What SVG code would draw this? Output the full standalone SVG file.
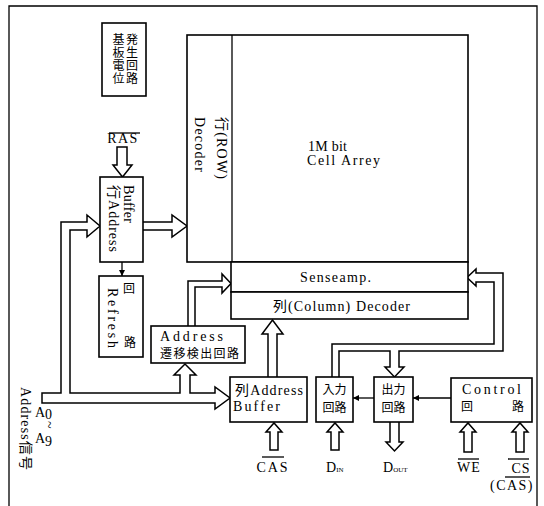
<svg xmlns="http://www.w3.org/2000/svg" width="544" height="506" viewBox="0 0 544 506">
<style>
.b{fill:#fff;stroke:#000;stroke-width:1.6}
.p{fill:#fff;stroke:#000;stroke-width:1.5;stroke-linejoin:miter}
.l{fill:none;stroke:#000;stroke-width:1.3}
.t{font-family:"Liberation Serif","Noto Sans CJK JP",serif;font-size:14px;fill:#000}
.j{font-family:"Noto Sans CJK JP","Liberation Serif",sans-serif;font-size:12px;fill:#000}
.m{text-anchor:middle}
</style>
<defs>
<marker id="ah" viewBox="0 0 6 6" refX="6" refY="3" markerWidth="6" markerHeight="6" markerUnits="userSpaceOnUse" orient="auto">
<path d="M0,0 L6,3 L0,6 Z" fill="#000"/>
</marker>
</defs>
<rect width="544" height="506" fill="#fff"/>
<path class="l" d="M9,506 V6 H537 V506"/>

<g id="connectors">
<path class="p" d="M117,147 H127 V165 H132 L122.5,177 L113,165 H117 Z"/>
<path class="p" d="M143,222 H172 V215 L187,226 L172,237 V230 H143"/>
<path class="p" d="M42,393 H61 V222 H87 V215 L100,226 L87,237 V230 H70 V393 H180 V375 H174 L185,364 L196,375 H190 V393 H215 V387 L230,398 L215,409 V403 H42 Z"/>
<path class="p" d="M188,326 V281 H222 V274 L231,283.5 L222,293 V287 H195 V326"/>
<path class="p" d="M268,377 V334 H262 L272.5,320 L283,334 H277 V377"/>
<path class="p" d="M332,377 V344 H494 V282 H476 V286 L467,277.5 L476,269 V273 H503 V351 H399 V367 H404 L394.5,377 L385,367 H390 V351 H339 V377"/>
<path class="p" d="M390,422 V442 H386 L394.5,451 L403,442 H399 V422"/>
<path class="p" d="M270,450 V432 H266 L274,423 L282,432 H278 V450 Z"/>
<path class="p" d="M331,450 V432 H327 L335,423 L343,432 H339 V450 Z"/>
<path class="p" d="M464,452 V432 H460 L468,423 L476,432 H472 V452 Z"/>
<path class="p" d="M516,452 V432 H512 L520,423 L528,432 H524 V452 Z"/>
<line class="l" x1="122" y1="262" x2="122" y2="276" marker-end="url(#ah)"/>
<line class="l" x1="374" y1="398" x2="353" y2="398" marker-end="url(#ah)"/>
<line class="l" x1="451" y1="398" x2="413" y2="398" marker-end="url(#ah)"/>
</g>

<g id="substrate">
<rect class="b" x="102" y="23" width="44" height="73"/>
<text class="j m" font-size="11.5" x="118.5 118.5 118.5 118.5" y="44 57 70 83">基板電位</text>
<text class="j m" font-size="11.5" x="132 132 132 132" y="44 57 70 83">発生回路</text>
</g>

<g id="cell-array">
<rect class="b" x="187" y="35" width="281" height="227"/>
<line class="l" x1="232" y1="35" x2="232" y2="262"/>
<text class="t" x="308" y="151" textLength="39">1M bit</text>
<text class="t" x="307" y="165" textLength="73">Cell Arrey</text>
</g>

<g id="row-decoder">
<text class="t" transform="translate(217,117) rotate(90)" textLength="62">行(ROW)</text>
<text class="t" transform="translate(195,117) rotate(90)" textLength="55">Decoder</text>
</g>

<g id="senseamp">
<rect class="b" x="231" y="262" width="237" height="30"/>
<text class="t" x="300" y="282" textLength="71">Senseamp.</text>
</g>

<g id="column-decoder">
<rect class="b" x="231" y="292" width="237" height="27"/>
<text class="t" x="273" y="311" textLength="137">列(Column) Decoder</text>
</g>

<g id="row-address-buffer">
<rect class="b" x="100" y="177" width="43" height="85"/>
<text class="t" transform="translate(124,185) rotate(90)" textLength="38">Buffer</text>
<text class="t" transform="translate(109,185) rotate(90)" textLength="67">行Address</text>
</g>

<g id="refresh">
<rect class="b" x="99" y="276" width="44" height="81"/>
<text class="t" transform="translate(108,288) rotate(90)" textLength="60">Refresh</text>
<text class="j m" font-size="11" x="129" y="293">回</text>
<text class="j m" font-size="12" x="130" y="347">路</text>
</g>

<g id="address-transition">
<rect class="b" x="151" y="326" width="94" height="37"/>
<text class="t" x="160" y="341" textLength="63">Address</text>
<text class="j" font-size="13" x="160" y="358" textLength="79">遷移検出回路</text>
</g>

<g id="column-address-buffer">
<rect class="b" x="230" y="377" width="77" height="45"/>
<text class="t" x="235" y="395" textLength="68">列Address</text>
<text class="t" x="233" y="411" textLength="47">Buffer</text>
</g>

<g id="input-circuit">
<rect class="b" x="316" y="377" width="37" height="45"/>
<text class="j m" x="334.5" y="393.5">入力</text>
<text class="j m" x="334.5" y="411.5">回路</text>
</g>

<g id="output-circuit">
<rect class="b" x="374" y="377" width="39" height="45"/>
<text class="j m" x="393.5" y="393.5">出力</text>
<text class="j m" x="393.5" y="411.5">回路</text>
</g>

<g id="control">
<rect class="b" x="451" y="378" width="81" height="44"/>
<text class="t" x="462" y="394" textLength="59">Control</text>
<text class="j" font-size="10" x="461" y="411">回</text>
<text class="j" font-size="12" x="512" y="411">路</text>
</g>

<g id="labels">
<text class="t m" x="123" y="143" letter-spacing="1.5">RAS</text>
<line class="l" x1="109" y1="133" x2="140" y2="133"/>
<text class="t" transform="translate(21,387) rotate(90)" font-size="13" textLength="83">Address信号</text>
<text class="t" font-size="13" x="35" y="417">A</text>
<text class="t" font-size="7" x="45" y="419">0</text>
<text class="t" font-size="12" transform="translate(44,421) rotate(90)">~</text>
<text class="t" font-size="13" x="35" y="443">A</text>
<text class="t" font-size="7" x="45" y="446">9</text>
<text class="t m" x="273" y="472" letter-spacing="2">CAS</text>
<line class="l" x1="262" y1="457" x2="284" y2="457"/>
<text class="t" x="326" y="472">D<tspan font-size="7">IN</tspan></text>
<text class="t" x="383" y="472">D<tspan font-size="7">OUT</tspan></text>
<text class="t m" x="469" y="472" letter-spacing="1">WE</text>
<line class="l" x1="458" y1="459" x2="479" y2="459"/>
<text class="t m" x="521" y="473" letter-spacing="1">CS</text>
<line class="l" x1="508" y1="459" x2="529" y2="459"/>
<text class="t m" x="512" y="490" letter-spacing="1.5">(CAS)</text>
<line class="l" x1="505" y1="477" x2="530" y2="477"/>
</g>
</svg>
